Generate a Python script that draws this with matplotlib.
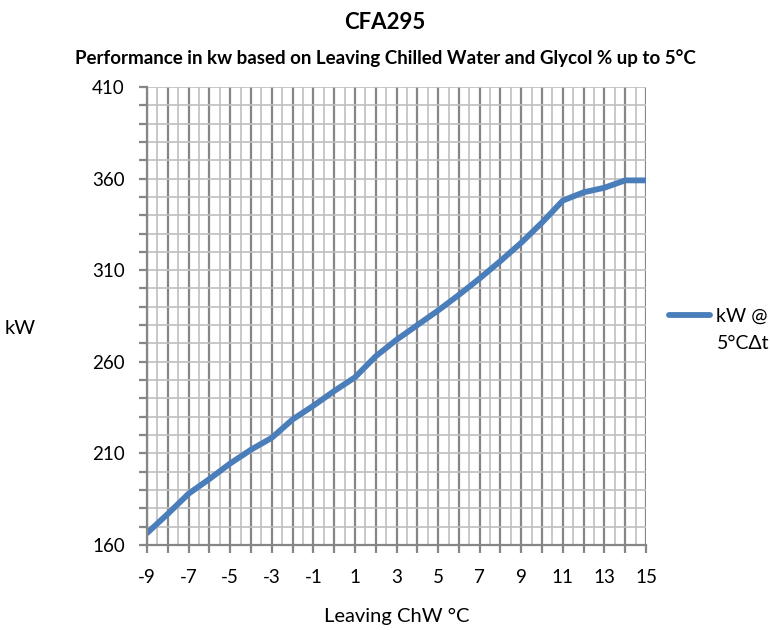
import numpy as np
import matplotlib.pyplot as plt
from matplotlib.ticker import MultipleLocator

# data
temps = [-9, -8, -7, -6, -5, -4, -3, -2, -1, 0, 1, 2, 3, 4, 5, 6, 7, 8, 9, 10, 11, 12, 13, 14, 15]
kw = [166.5, 177, 188, 196, 204.5, 212, 218.5, 228.5, 236, 244, 251.5, 263, 272, 280, 288, 296.5,
      305.5, 315, 325, 336, 348, 352.5, 355, 359, 359]
xticks = np.arange(-9, 16, 2)
yticks = np.arange(160, 411, 50)

plt.rcParams['font.family'] = ['Lato', 'DejaVu Sans']

fig = plt.figure(figsize=(7.7, 6.3), dpi=100)
ax = fig.add_axes([0.191, 0.135, 0.648, 0.727])

# grid: dark every 1 degree, light every half degree and every 10 kW
ax.set_xticks(np.arange(-9, 16, 1))
ax.set_xticklabels([str(t) if t in xticks else '' for t in range(-9, 16)])
ax.xaxis.set_minor_locator(MultipleLocator(0.5))
ax.set_yticks(yticks)
ax.yaxis.set_minor_locator(MultipleLocator(10))
ax.grid(which='major', axis='x', color='#868686', linewidth=1.6)
ax.grid(which='minor', axis='x', color='#BFBFBF', linewidth=1.2)
ax.grid(which='both', axis='y', color='#BFBFBF', linewidth=1.2)
ax.set_axisbelow(True)

line, = ax.plot(temps, kw, color='#4A7EBB', linewidth=4.2, solid_capstyle='round')

ax.set_xlim(-9, 15)
ax.set_ylim(160, 410)

for s in ['top', 'right']:
    ax.spines[s].set_visible(False)
for s in ['left', 'bottom']:
    ax.spines[s].set_color('#868686')
    ax.spines[s].set_linewidth(1.6)

ax.tick_params(axis='x', which='major', length=6, width=1.6, color='#868686',
               labelsize=13.5, pad=11)
ax.tick_params(axis='x', which='minor', length=0)
ax.tick_params(axis='y', which='major', length=6, width=1.6, color='#868686',
               labelsize=13.5, pad=10)
ax.tick_params(axis='y', which='minor', length=6, width=1.6, color='#868686')

ax.set_xlabel('Leaving ChW °C', fontsize=14.5, labelpad=16)
ax.set_ylabel('kW', fontsize=14.5, rotation=0, labelpad=0, va='center', ha='center')
ax.yaxis.set_label_coords(-0.255, 0.472)

fig.text(0.5, 0.965, 'CFA295', ha='center', va='center', fontsize=16, fontweight='bold')
fig.text(0.5, 0.908, 'Performance in kw based on Leaving Chilled Water and Glycol % up to 5°C',
         ha='center', va='center', fontsize=13.5, fontweight='bold')

# legend: handle next to first line, second line of label below
ax.legend([line], ['kW @'], loc='center left', bbox_to_anchor=(1.047, 0.499), frameon=False,
          fontsize=14, handlelength=2.1, handletextpad=0.3, borderaxespad=0, borderpad=0)
fig.text(0.931, 0.455, '5°CΔt', ha='left', va='center', fontsize=14)

plt.savefig('out.png', dpi=100)
